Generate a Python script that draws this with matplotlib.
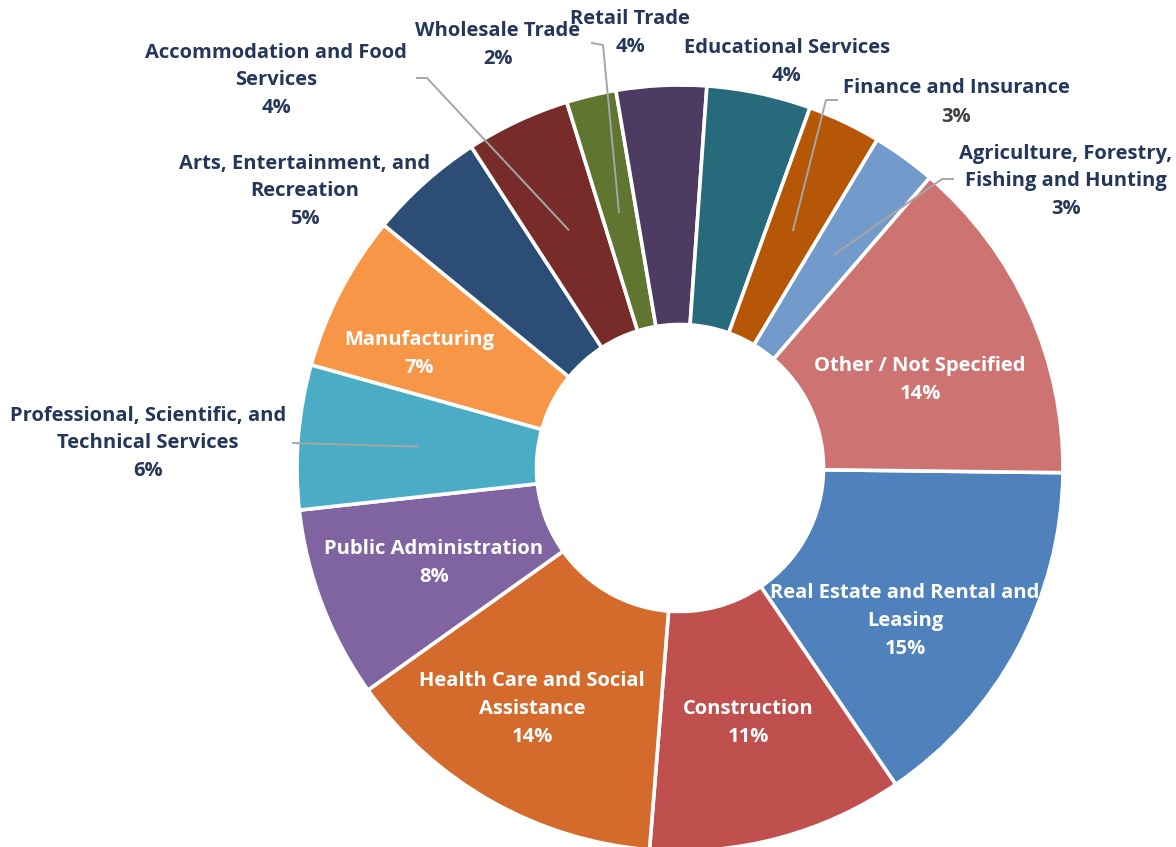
import numpy as np
import matplotlib.pyplot as plt

# Dane: udzialy branz (w kolejnosci rysowania, zgodnie z ruchem wskazowek zegara)
industries = [
    "Real Estate and Rental and\nLeasing",
    "Construction",
    "Health Care and Social\nAssistance",
    "Public Administration",
    "Professional, Scientific, and\nTechnical Services",
    "Manufacturing",
    "Arts, Entertainment, and\nRecreation",
    "Accommodation and Food\nServices",
    "Wholesale Trade",
    "Retail Trade",
    "Educational Services",
    "Finance and Insurance",
    "Agriculture, Forestry,\nFishing and Hunting",
    "Other / Not Specified",
]
shares = [15.3, 10.8, 13.9, 8.1, 6.1, 6.6, 4.9, 4.4, 2.1, 3.8, 4.4, 3.1, 2.7, 13.9]

colors = ["#4F81BD", "#C0504D", "#D46B2C", "#8064A2", "#4BACC6", "#F79646",
          "#2C4D75", "#772C2A", "#5F7530", "#4D3B62", "#276A7C", "#B65708",
          "#729ACA", "#CD7371"]

W, H = 1176, 847
NAVY = "#24375A"
GRAY_LINE = "#A6A6A6"

def P(x, y):
    # wspolrzedne obrazka (y w dol) -> wspolrzedne osi (y w gore)
    return x, H - y

cx, cy = P(680, 468)
R = 383
R_IN = 143.5

plt.rcParams['font.family'] = ['Open Sans', 'DejaVu Sans']

fig = plt.figure(figsize=(W / 100, H / 100), dpi=100)
ax = fig.add_axes([0, 0, 1, 1])

wedges, _ = ax.pie(shares, colors=colors, startangle=-0.7, counterclock=False,
                   center=(cx, cy), radius=R,
                   wedgeprops=dict(width=R - R_IN, edgecolor="white", linewidth=2.6))
ax.set_xlim(0, W)
ax.set_ylim(0, H)
ax.set_aspect('equal')
ax.axis('off')

# pozycje etykiet (srodek bloku tekstu) i poczatek linii odniesienia
label_pos = {
    "Real Estate and Rental and\nLeasing": ((905, 621), None),
    "Construction": ((748, 723), None),
    "Health Care and Social\nAssistance": ((532, 709), None),
    "Public Administration": ((434, 563), None),
    "Manufacturing": ((419, 354), None),
    "Other / Not Specified": ((920, 380), None),
    "Accommodation and Food\nServices": ((276, 80), [(417, 78), (427, 78)]),
    "Wholesale Trade": ((498, 45), [(592, 43), (603, 45)]),
    "Retail Trade": ((630, 33), None),
    "Educational Services": ((787, 62), None),
    "Finance and Insurance": ((956, 102), [(837, 100), (826, 100)]),
    "Agriculture, Forestry,\nFishing and Hunting": ((1066, 181), [(953, 179), (942, 179)]),
    "Professional, Scientific, and\nTechnical Services": ((148, 443), [(293, 443)]),
    "Arts, Entertainment, and\nRecreation": ((305, 191), None),
}
inside = {"Real Estate and Rental and\nLeasing", "Construction",
          "Health Care and Social\nAssistance", "Public Administration",
          "Manufacturing", "Other / Not Specified"}

style = dict(ha="center", va="center", fontsize=14.5, fontweight="bold", linespacing=1.5)

r_mid = (R + R_IN) / 2
for w, name, val in zip(wedges, industries, shares):
    mid = np.deg2rad((w.theta1 + w.theta2) / 2)
    (tx, ty), lead = label_pos[name]
    color = "white" if name in inside else NAVY
    if name == "Finance and Insurance":
        # w oryginale procent tej etykiety jest szary
        ax.text(*P(tx, ty - 14), name, color=color, **style)
        ax.text(*P(tx, ty + 15), f"{round(val)}%", color="#404040", **style)
    else:
        ax.text(*P(tx, ty), f"{name}\n{round(val)}%", color=color, **style)
    if lead is not None:
        pts = [P(*p) for p in lead]
        pts.append((cx + r_mid * np.cos(mid), cy + r_mid * np.sin(mid)))
        xs, ys = zip(*pts)
        ax.plot(xs, ys, color=GRAY_LINE, lw=1.4, zorder=3)

fig.savefig("out.png", dpi=100)
